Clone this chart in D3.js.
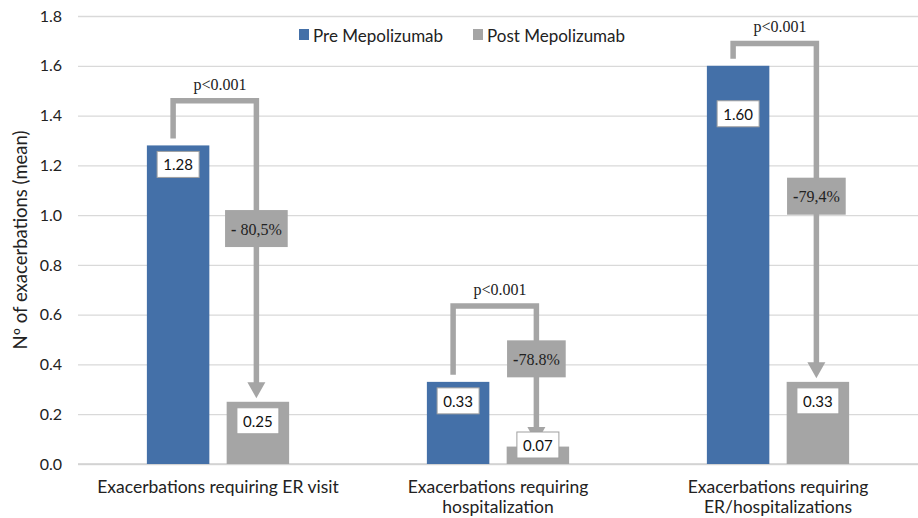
<!DOCTYPE html>
<html>
<head>
<meta charset="utf-8">
<script src="https://cdn.jsdelivr.net/npm/d3@7"></script>
<style>
  html, body { margin: 0; padding: 0; background: #fff; }
  svg { display: block; }
</style>
</head>
<body>
<svg id="chart" width="918" height="518"></svg>
<script>
// ---- data ----
const categories = [
  ["Exacerbations requiring ER visit"],
  ["Exacerbations requiring", "hospitalization"],
  ["Exacerbations requiring", "ER/hospitalizations"]
];
const seriesNames = ["Pre Mepolizumab", "Post Mepolizumab"];
const preValues = [1.28, 0.33, 1.60];
const postValues = [0.25, 0.07, 0.33];
const preLabels = ["1.28", "0.33", "1.60"];
const postLabels = ["0.25", "0.07", "0.33"];
const yTicks = [0, 0.2, 0.4, 0.6, 0.8, 1.0, 1.2, 1.4, 1.6, 1.8];
const pTexts = ["p<0.001", "p<0.001", "p<0.001"];
const changeSign = ["-", "-", "-"];
const changeTexts = [" 80,5%", "78.8%", "79,4%"];
// annotation levels (in data units)
const bracketTop = [1.459, 0.635, 1.69];
const changeBoxAt = [0.946, 0.4225, 1.076];
const preLabelDrop = [19, 19, 48]; // px below bar top for label centre

// ---- layout ----
const W = 918, H = 518;
const margin = {top: 16, right: 0, bottom: 54, left: 78};
const iw = W - margin.left - margin.right;
const ih = H - margin.top - margin.bottom;
const blue = "#4470a8", gray = "#a5a5a5";
const sans = "Lato, 'Open Sans', sans-serif";
const serif = "'Liberation Serif', 'DejaVu Serif', serif";

const svg = d3.select("#chart");
const g = svg.append("g").attr("transform", `translate(${margin.left},${margin.top})`);

const x0 = d3.scaleBand().domain(d3.range(categories.length)).range([0, iw]).padding(0);
const bw = x0.bandwidth();
const x1 = d3.scaleBand().domain(seriesNames).range([bw * 0.246, bw * 0.754]).paddingInner(0.217);
const y = d3.scaleLinear().domain([0, 1.8]).range([ih, 0]);

// gridlines
const yAxis = d3.axisLeft(y).tickValues(yTicks).tickFormat(d3.format(".1f")).tickSize(-iw).tickPadding(16);
const ya = g.append("g").call(yAxis);
ya.select(".domain").remove();
ya.selectAll(".tick line").attr("stroke", "#d9d9d9").attr("stroke-width", 1.3);
ya.selectAll(".tick text").attr("font-family", sans).attr("font-size", 16).attr("fill", "#222");

// baseline
g.append("line").attr("x1", 0).attr("x2", iw).attr("y1", y(0)).attr("y2", y(0))
  .attr("stroke", "#d0d0d0").attr("stroke-width", 1.5);

// y title
svg.append("text")
  .attr("transform", `translate(20,${margin.top + ih / 2}) rotate(-90)`)
  .attr("text-anchor", "middle").attr("dominant-baseline", "central")
  .attr("font-family", sans).attr("font-size", 18.5).attr("fill", "#222")
  .text("Nº of exacerbations (mean)");

// bars
const rows = categories.map((c, i) => ({i, pre: preValues[i], post: postValues[i]}));
const groups = g.selectAll(".grp").data(rows).join("g")
  .attr("transform", d => `translate(${x0(d.i)},0)`);
groups.append("rect")
  .attr("x", x1(seriesNames[0])).attr("width", x1.bandwidth())
  .attr("y", d => y(d.pre)).attr("height", d => y(0) - y(d.pre)).attr("fill", blue);
groups.append("rect")
  .attr("x", x1(seriesNames[1])).attr("width", x1.bandwidth())
  .attr("y", d => y(d.post)).attr("height", d => y(0) - y(d.post)).attr("fill", gray);

// x labels
groups.each(function(d) {
  const t = d3.select(this).append("text")
    .attr("text-anchor", "middle").attr("font-family", sans).attr("font-size", 17.5).attr("fill", "#222");
  categories[d.i].forEach((line, k) => {
    t.append("tspan").attr("x", bw / 2).attr("y", ih + 29 + k * 19.5).text(line);
  });
});

// brackets + arrows
groups.each(function(d) {
  const sel = d3.select(this);
  const lx = x1(seriesNames[0]) + x1.bandwidth() / 2 - 5;
  const rx = x1(seriesNames[1]) + x1.bandwidth() / 2 - 1.5;
  const tipY = y(d.post) - 3.5;
  const headH = 16, headW = 18;
  sel.append("path")
    .attr("d", `M${lx},${y(d.pre) - 7} V${y(bracketTop[d.i])} H${rx} V${tipY - headH + 1}`)
    .attr("fill", "none").attr("stroke", gray).attr("stroke-width", 5.5).attr("stroke-linejoin", "miter");
  sel.append("path")
    .attr("d", `M${rx - headW / 2},${tipY - headH} L${rx + headW / 2},${tipY - headH} L${rx},${tipY} Z`)
    .attr("fill", gray);
  sel.append("text")
    .attr("x", bw / 2 + 2).attr("y", y(bracketTop[d.i]) - 11)
    .attr("text-anchor", "middle").attr("font-family", serif).attr("font-size", 16).attr("fill", "#222")
    .text(pTexts[d.i]);
  // change box
  const ct = sel.append("text")
    .attr("x", rx).attr("y", y(changeBoxAt[d.i]))
    .attr("text-anchor", "middle").attr("dominant-baseline", "central")
    .attr("font-family", serif).attr("font-size", 16).attr("fill", "#222");
  ct.append("tspan").attr("font-weight", "bold").text(changeSign[d.i]);
  ct.append("tspan").text(changeTexts[d.i]);
  const bb = ct.node().getBBox();
  sel.insert("rect", function() { return ct.node(); })
    .attr("x", bb.x - 6).attr("y", y(changeBoxAt[d.i]) - 18.5)
    .attr("width", bb.width + 12).attr("height", 37).attr("fill", gray);
});

// value labels
function valueLabel(sel, cx, cy, txt) {
  sel.append("rect").attr("x", cx - 21).attr("y", cy - 13).attr("width", 42).attr("height", 26)
    .attr("fill", "#fff").attr("stroke", "#a0a0a0").attr("stroke-width", 1);
  sel.append("text").attr("x", cx).attr("y", cy).attr("text-anchor", "middle")
    .attr("dominant-baseline", "central").attr("font-family", sans).attr("font-size", 15).attr("fill", "#111")
    .text(txt);
}
groups.each(function(d) {
  const sel = d3.select(this);
  const cxPre = x1(seriesNames[0]) + x1.bandwidth() / 2;
  const cxPost = x1(seriesNames[1]) + x1.bandwidth() / 2;
  valueLabel(sel, cxPre, Math.min(y(d.pre) + preLabelDrop[d.i], y(0) - 19), preLabels[d.i]);
  valueLabel(sel, cxPost, Math.min(y(d.post) + 19, y(0) - 19), postLabels[d.i]);
});

// legend
const legend = svg.append("g").attr("transform", "translate(299,35)");
const legX = [0, 174];
seriesNames.forEach((s, k) => {
  const lg = legend.append("g").attr("transform", `translate(${legX[k]},0)`);
  lg.append("rect").attr("x", 0).attr("y", -6).attr("width", 10).attr("height", 11)
    .attr("fill", k === 0 ? blue : gray);
  lg.append("text").attr("x", 14).attr("y", 0).attr("dominant-baseline", "central")
    .attr("font-family", sans).attr("font-size", 17).attr("fill", "#222").text(s);
});
</script>
</body>
</html>
